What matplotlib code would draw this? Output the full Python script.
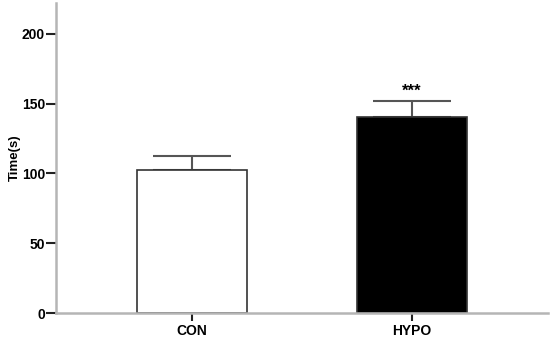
import matplotlib
matplotlib.use("Agg")
import matplotlib.pyplot as plt

# group data
groups = ["CON", "HYPO"]
means = [102.5, 140.3]
errors = [10.0, 11.7]
colors = ["white", "black"]
sig = ["", "***"]

plt.rcParams['font.family'] = ['Liberation Sans', 'DejaVu Sans']

fig = plt.figure(figsize=(5.5, 3.4), dpi=100)
ax = fig.add_axes([0.102, 0.079, 0.895, 0.912])

x = range(len(groups))
ax.bar(x, means, width=0.5, color=colors, edgecolor="#333333", linewidth=1.2, zorder=2)
ax.errorbar(x, means, yerr=[[0, 0], errors], fmt="none", ecolor="#555555",
            elinewidth=1.5, capsize=28, capthick=1.5, zorder=1)
for i, s in enumerate(sig):
    if s:
        ax.text(i, means[i] + errors[i] + 1.5, s, ha="center", va="bottom",
                fontsize=12, fontweight="bold")

ax.set_xlim(-0.617, 1.62)
ax.set_ylim(0, 222)
ax.set_yticks([0, 50, 100, 150, 200])
ax.set_xticks(list(x))
ax.set_xticklabels(groups)
ax.set_ylabel("Time(s)", fontsize=9.5, fontweight="bold")
ax.yaxis.set_label_coords(-0.072, 0.5)

for side in ["top", "right"]:
    ax.spines[side].set_visible(False)
for side in ["left", "bottom"]:
    ax.spines[side].set_color("#b5b5b5")
    ax.spines[side].set_linewidth(1.8)
ax.tick_params(axis="y", length=7, width=1.5, color="#222222", labelsize=10, pad=1)
ax.tick_params(axis="x", length=6, width=1.5, color="#222222", labelsize=10, pad=2)
for lab in ax.get_xticklabels() + ax.get_yticklabels():
    lab.set_fontweight("bold")

fig.savefig("out.png", dpi=100)
